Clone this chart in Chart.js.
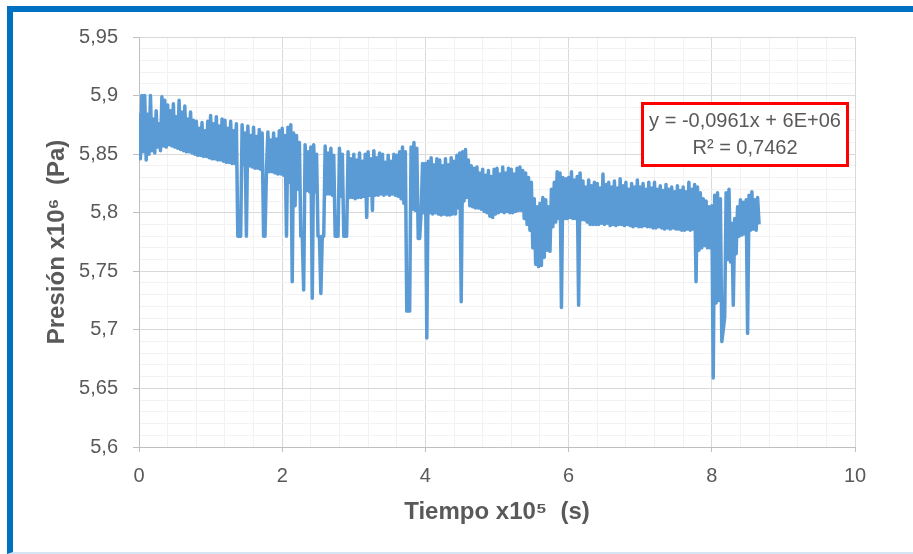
<!DOCTYPE html>
<html>
<head>
<meta charset="utf-8">
<script src="https://cdn.jsdelivr.net/npm/chart.js@4"></script>
<style>
  html, body { margin: 0; padding: 0; background: #fff; overflow: hidden; }
  #wrap { position: relative; width: 913px; height: 554px; overflow: hidden; }
  #frame {
    position: absolute; left: 7px; top: 6px; width: 960px; height: 540px;
    border-top: 6px solid #0070c0; border-left: 6px solid #0070c0;
    border-bottom: 2px solid #d5e5f3; pointer-events: none;
  }
</style>
</head>
<body>
<div id="wrap">
  <canvas id="grafico" width="913" height="554"></canvas>
  <div id="frame"></div>
</div>
<script>
// tiempo (x10^5 s)
const tiempo = [
  0.00,0.02,0.04,0.06,0.08,0.10,0.12,0.14,0.16,0.18,
  0.20,0.22,0.24,0.26,0.28,0.30,0.32,0.34,0.36,0.38,
  0.40,0.42,0.44,0.46,0.48,0.50,0.52,0.54,0.56,0.58,
  0.60,0.62,0.64,0.66,0.68,0.70,0.72,0.74,0.76,0.78,
  0.80,0.82,0.84,0.86,0.88,0.90,0.92,0.94,0.96,0.98,
  1.00,1.02,1.04,1.06,1.08,1.10,1.12,1.14,1.16,1.18,
  1.20,1.22,1.24,1.26,1.28,1.30,1.32,1.34,1.36,1.38,
  1.40,1.42,1.44,1.46,1.48,1.50,1.52,1.54,1.56,1.58,
  1.60,1.62,1.64,1.66,1.68,1.70,1.72,1.74,1.76,1.78,
  1.80,1.82,1.84,1.86,1.88,1.90,1.92,1.94,1.96,1.98,
  2.00,2.02,2.04,2.06,2.08,2.10,2.12,2.14,2.16,2.18,
  2.20,2.22,2.24,2.26,2.28,2.30,2.32,2.34,2.36,2.38,
  2.40,2.42,2.44,2.46,2.48,2.50,2.52,2.54,2.56,2.58,
  2.60,2.62,2.64,2.66,2.68,2.70,2.72,2.74,2.76,2.78,
  2.80,2.82,2.84,2.86,2.88,2.90,2.92,2.94,2.96,2.98,
  3.00,3.02,3.04,3.06,3.08,3.10,3.12,3.14,3.16,3.18,
  3.20,3.22,3.24,3.26,3.28,3.30,3.32,3.34,3.36,3.38,
  3.40,3.42,3.44,3.46,3.48,3.50,3.52,3.54,3.56,3.58,
  3.60,3.62,3.64,3.66,3.68,3.70,3.72,3.74,3.76,3.78,
  3.80,3.82,3.84,3.86,3.88,3.90,3.92,3.94,3.96,3.98,
  4.00,4.02,4.04,4.06,4.08,4.10,4.12,4.14,4.16,4.18,
  4.20,4.22,4.24,4.26,4.28,4.30,4.32,4.34,4.36,4.38,
  4.40,4.42,4.44,4.46,4.48,4.50,4.52,4.54,4.56,4.58,
  4.60,4.62,4.64,4.66,4.68,4.70,4.72,4.74,4.76,4.78,
  4.80,4.82,4.84,4.86,4.88,4.90,4.92,4.94,4.96,4.98,
  5.00,5.02,5.04,5.06,5.08,5.10,5.12,5.14,5.16,5.18,
  5.20,5.22,5.24,5.26,5.28,5.30,5.32,5.34,5.36,5.38,
  5.40,5.42,5.44,5.46,5.48,5.50,5.52,5.54,5.56,5.58,
  5.60,5.62,5.64,5.66,5.68,5.70,5.72,5.74,5.76,5.78,
  5.80,5.82,5.84,5.86,5.88,5.90,5.92,5.94,5.96,5.98,
  6.00,6.02,6.04,6.06,6.08,6.10,6.12,6.14,6.16,6.18,
  6.20,6.22,6.24,6.26,6.28,6.30,6.32,6.34,6.36,6.38,
  6.40,6.42,6.44,6.46,6.48,6.50,6.52,6.54,6.56,6.58,
  6.60,6.62,6.64,6.66,6.68,6.70,6.72,6.74,6.76,6.78,
  6.80,6.82,6.84,6.86,6.88,6.90,6.92,6.94,6.96,6.98,
  7.00,7.02,7.04,7.06,7.08,7.10,7.12,7.14,7.16,7.18,
  7.20,7.22,7.24,7.26,7.28,7.30,7.32,7.34,7.36,7.38,
  7.40,7.42,7.44,7.46,7.48,7.50,7.52,7.54,7.56,7.58,
  7.60,7.62,7.64,7.66,7.68,7.70,7.72,7.74,7.76,7.78,
  7.80,7.82,7.84,7.86,7.88,7.90,7.92,7.94,7.96,7.98,
  8.00,8.02,8.04,8.06,8.08,8.10,8.12,8.14,8.16,8.18,
  8.20,8.22,8.24,8.26,8.28,8.30,8.32,8.34,8.36,8.38,
  8.40,8.42,8.44,8.46,8.48,8.50,8.52,8.54,8.56,8.58,
  8.60,8.62,8.64,8.66
];

// presión (x10^6 Pa)
const presion = [
  5.885,5.846,5.900,5.852,5.900,5.845,5.884,5.850,5.900,5.853,
  5.880,5.851,5.887,5.856,5.876,5.853,5.899,5.857,5.896,5.856,
  5.892,5.858,5.887,5.857,5.893,5.856,5.882,5.855,5.896,5.854,
  5.886,5.853,5.891,5.852,5.880,5.852,5.886,5.851,5.879,5.850,
  5.878,5.849,5.872,5.849,5.877,5.848,5.870,5.848,5.878,5.847,
  5.883,5.846,5.876,5.846,5.882,5.845,5.874,5.845,5.880,5.844,
  5.879,5.843,5.872,5.843,5.878,5.842,5.870,5.842,5.876,5.780,
  5.780,5.780,5.875,5.841,5.868,5.780,5.874,5.840,5.866,5.839,
  5.873,5.838,5.865,5.838,5.871,5.837,5.868,5.780,5.780,5.836,
  5.869,5.835,5.862,5.835,5.868,5.834,5.863,5.833,5.870,5.833,
  5.872,5.832,5.866,5.780,5.873,5.826,5.875,5.741,5.868,5.806,
  5.866,5.820,5.860,5.780,5.780,5.734,5.858,5.819,5.852,5.818,
  5.856,5.727,5.858,5.818,5.850,5.780,5.780,5.731,5.780,5.780,
  5.857,5.816,5.851,5.816,5.855,5.815,5.849,5.780,5.780,5.780,
  5.855,5.814,5.850,5.780,5.780,5.780,5.852,5.813,5.846,5.813,
  5.850,5.812,5.845,5.813,5.851,5.813,5.844,5.814,5.850,5.796,
  5.852,5.815,5.846,5.802,5.853,5.815,5.847,5.815,5.851,5.816,
  5.850,5.815,5.843,5.816,5.849,5.815,5.844,5.816,5.850,5.815,
  5.849,5.814,5.852,5.812,5.856,5.808,5.852,5.716,5.716,5.716,
  5.856,5.803,5.860,5.802,5.855,5.778,5.778,5.800,5.842,5.800,
  5.842,5.693,5.844,5.800,5.847,5.799,5.841,5.800,5.846,5.799,
  5.845,5.798,5.840,5.799,5.846,5.798,5.841,5.798,5.847,5.799,
  5.844,5.799,5.849,5.804,5.851,5.724,5.852,5.810,5.854,5.813,
  5.845,5.806,5.840,5.805,5.838,5.804,5.839,5.804,5.834,5.803,
  5.837,5.801,5.832,5.800,5.836,5.797,5.831,5.796,5.837,5.799,
  5.838,5.800,5.833,5.801,5.839,5.800,5.834,5.801,5.838,5.800,
  5.837,5.800,5.833,5.801,5.838,5.802,5.839,5.802,5.836,5.795,
  5.834,5.790,5.830,5.785,5.826,5.770,5.812,5.756,5.805,5.754,
  5.808,5.755,5.813,5.762,5.811,5.768,5.805,5.767,5.820,5.788,
  5.826,5.792,5.835,5.795,5.834,5.719,5.830,5.795,5.829,5.795,
  5.830,5.796,5.835,5.795,5.828,5.795,5.831,5.721,5.834,5.794,
  5.827,5.794,5.822,5.792,5.828,5.790,5.823,5.790,5.826,5.790,
  5.825,5.790,5.821,5.791,5.833,5.790,5.824,5.791,5.826,5.789,
  5.822,5.790,5.827,5.789,5.821,5.790,5.829,5.790,5.823,5.789,
  5.826,5.790,5.820,5.789,5.825,5.788,5.822,5.789,5.828,5.788,
  5.822,5.788,5.825,5.789,5.820,5.788,5.826,5.788,5.821,5.787,
  5.826,5.787,5.820,5.788,5.823,5.787,5.819,5.786,5.824,5.787,
  5.820,5.786,5.822,5.787,5.818,5.786,5.823,5.786,5.819,5.785,
  5.822,5.785,5.818,5.786,5.826,5.785,5.820,5.786,5.824,5.741,
  5.822,5.768,5.817,5.770,5.812,5.772,5.810,5.770,5.805,5.770,
  5.806,5.659,5.815,5.723,5.817,5.725,5.812,5.690,5.700,5.711,
  5.817,5.760,5.820,5.758,5.791,5.721,5.795,5.765,5.805,5.780,
  5.811,5.781,5.809,5.782,5.811,5.697,5.815,5.785,5.818,5.786,
  5.811,5.785,5.813,5.790
];

const ecuacion = ["y = -0,0961x + 6E+06", "R² = 0,7462"];

const gris = "#595959";
const isMajorY = (v) => Math.abs(v * 20 - Math.round(v * 20)) < 1e-6;
const isMajorX = (v) => Math.abs(v / 2 - Math.round(v / 2)) < 1e-6;

// cuadro con la ecuación de la línea de tendencia
const cajaTendencia = {
  id: "cajaTendencia",
  afterDraw(chart) {
    const { ctx, chartArea: a } = chart;
    const x = a.left + 503.5, y = a.top + 66.5, w = 205, h = 62;
    ctx.save();
    ctx.fillStyle = "#fff";
    ctx.fillRect(x, y, w, h);
    ctx.strokeStyle = "#ff0000";
    ctx.lineWidth = 3;
    ctx.strokeRect(x, y, w, h);
    ctx.fillStyle = gris;
    ctx.font = '20px "Liberation Sans"';
    ctx.textAlign = "center";
    ctx.textBaseline = "middle";
    ctx.fillText(ecuacion[0], x + w / 2, y + 18);
    ctx.fillText(ecuacion[1], x + w / 2, y + 45);
    ctx.restore();
  },
};

const tickFont = { family: "Liberation Sans", size: 20 };
const titleFont = { family: "Liberation Sans", size: 24, weight: "bold" };

new Chart(document.getElementById("grafico"), {
  type: "line",
  data: {
    datasets: [
      {
        data: tiempo.map((t, i) => ({ x: t, y: presion[i] })),
        borderColor: "#5b9bd5",
        borderWidth: 3.5,
        borderJoinStyle: "round",
        pointRadius: 0,
        tension: 0,
        fill: false,
      },
    ],
  },
  options: {
    responsive: false,
    animation: false,
    layout: { padding: { left: 0, top: 37, right: 58, bottom: 0 } },
    plugins: { legend: { display: false }, tooltip: { enabled: false } },
    scales: {
      x: {
        type: "linear",
        min: 0,
        max: 10,
        ticks: {
          stepSize: 0.4,
          autoSkip: false,
          maxRotation: 0,
          padding: 12,
          color: gris,
          font: tickFont,
          callback: (v) => (isMajorX(v) ? String(Math.round(v)) : ""),
        },
        grid: {
          color: (c) => (isMajorX(c.tick.value) ? "#d9d9d9" : "#f2f2f2"),
          tickColor: (c) => (isMajorX(c.tick.value) ? "#bfbfbf" : "rgba(0,0,0,0)"),
          tickLength: 5,
        },
        border: { color: "#bfbfbf" },
        title: {
          display: true,
          text: "Tiempo x10⁵  (s)",
          color: gris,
          font: titleFont,
          padding: { top: 0, bottom: 27 },
        },
        afterFit: (s) => { s.height = 107; },
      },
      y: {
        min: 5.6,
        max: 5.95,
        ticks: {
          stepSize: 0.01,
          autoSkip: false,
          padding: 15,
          color: gris,
          font: tickFont,
          callback: (v) =>
            isMajorY(v) ? String(Math.round(v * 100) / 100).replace(".", ",") : "",
        },
        grid: {
          color: (c) => (isMajorY(c.tick.value) ? "#d9d9d9" : "#f2f2f2"),
          tickColor: (c) => (isMajorY(c.tick.value) ? "#bfbfbf" : "rgba(0,0,0,0)"),
          tickLength: 6,
        },
        border: { color: "#bfbfbf" },
        title: {
          display: true,
          text: "Presión x10⁶  (Pa)",
          color: gris,
          font: titleFont,
          padding: { top: 43, bottom: 0 },
        },
        afterFit: (s) => { s.width = 139; },
      },
    },
  },
  plugins: [cajaTendencia],
});
</script>
</body>
</html>
